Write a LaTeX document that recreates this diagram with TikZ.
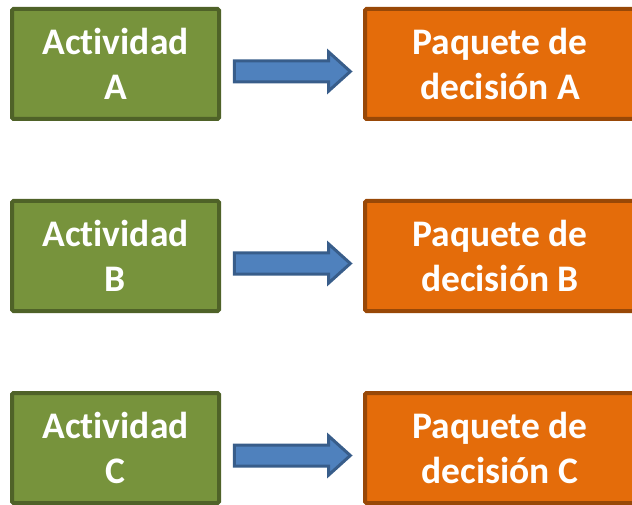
\documentclass[tikz,border=0pt]{standalone}
\usepackage{fontspec}
\setmainfont{Carlito}[Ligatures=NoCommon]
\usepackage{tikz}
\usetikzlibrary{shapes.arrows}
\definecolor{actfill}{HTML}{77933C}
\definecolor{actline}{HTML}{4F6228}
\definecolor{paqfill}{HTML}{E46C0A}
\definecolor{paqline}{HTML}{984807}
\definecolor{flefill}{HTML}{4F81BD}
\definecolor{fleline}{HTML}{385D8A}

\begin{document}
\begin{tikzpicture}[x=1pt,y=-1pt,
    act/.style={draw=actline,fill=actfill,line width=4pt,rounded corners=1.5pt,
      minimum width=207pt,minimum height=110pt,inner sep=0pt,align=center,
      text=white,font=\fontsize{37.5}{45}\selectfont\bfseries},
    paq/.style={act,draw=paqline,fill=paqfill,minimum width=270pt},
    flecha/.style={single arrow,draw=fleline,fill=flefill,line width=3pt,
      minimum height=116pt,inner xsep=0pt,inner ysep=9pt,xshift=-5.5pt,yshift=-7.5pt,
      single arrow head extend=9pt,single arrow tip angle=84}]
      \useasboundingbox (0,0) rectangle (632,505);
      \node[act] (a) at (115.5, 64) {Actividad\\A};
      \node[act] (b) at (115.5, 256) {Actividad\\B};
      \node[act] (c) at (115.5, 448) {Actividad\\C};
      \node[paq] (pa) at (500, 64) {Paquete de\\decisión A};
      \node[paq] (pb) at (500, 256) {Paquete de\\decisión B};
      \node[paq] (pc) at (500, 448) {Paquete de\\decisión C};
      \path (a.east) -- node[flecha] {} (pa.west);
      \path (b.east) -- node[flecha] {} (pb.west);
      \path (c.east) -- node[flecha] {} (pc.west);
    \end{tikzpicture}
\end{document}
